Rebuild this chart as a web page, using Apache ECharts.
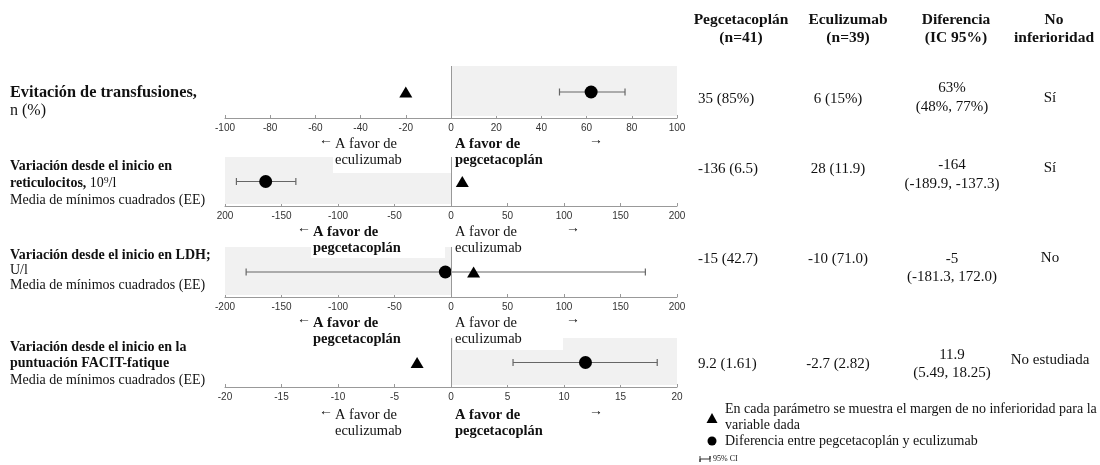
<!DOCTYPE html>
<html><head><meta charset="utf-8">
<script src="https://cdn.jsdelivr.net/npm/echarts@6/dist/echarts.min.js"></script>
<style>html,body{margin:0;padding:0;background:#fff}#c{width:1100px;height:465px}</style>
</head><body><div id="c"></div>
<script>
// ---- data ----
const estimates = [62, -164, -5, 11.9];
const ciLow = [48, -189.9, -181.3, 5.49];
const ciHigh = [77, -137.3, 172.0, 18.25];
const margins = [-20, 10, 20, -3];
const axisMin = [-100, -200, -200, -20];
const axisMax = [100, 200, 200, 20];
const axisStep = [20, 50, 50, 5];
const tickLabels = [
  ['-100','-80','-60','-40','-20','0','20','40','60','80','100'],
  ['200','-150','-100','-50','0','50','100','150','200'],
  ['-200','-150','-100','-50','0','50','100','150','200'],
  ['-20','-15','-10','-5','0','5','10','15','20']
];
const shadeFrom = [0, -200, -200, 0];
const shadeTo = [100, 0, 0, 20];
const headers = [['Pegcetacoplán','(n=41)'],['Eculizumab','(n=39)'],['Diferencia','(IC 95%)'],['No','inferioridad']];
const pegValues = ['35 (85%)','-136 (6.5)','-15 (42.7)','9.2 (1.61)'];
const ecuValues = ['6 (15%)','28 (11.9)','-10 (71.0)','-2.7 (2.82)'];
const diffValues = ['63%','-164','-5','11.9'];
const diffCI = ['(48%, 77%)','(-189.9, -137.3)','(-181.3, 172.0)','(5.49, 18.25)'];
const nonInf = ['Sí','Sí','No','No estudiada'];
const favorLeft = ['eculizumab','pegcetacoplán','pegcetacoplán','eculizumab'];
const favorRight = ['pegcetacoplán','eculizumab','eculizumab','pegcetacoplán'];

// ---- layout ----
const SERIF = '"Liberation Serif", "DejaVu Serif", serif';
const TXT = '#111';
const gridTop = [66, 157, 247, 338];
const gridH = [52, 49, 50, 49];
const chart = echarts.init(document.getElementById('c'));

const grids = [], xAxes = [], yAxes = [], series = [];
for (let i = 0; i < 4; i++) {
  grids.push({left: 225, right: 423, top: gridTop[i], height: gridH[i]});
  const mn = axisMin[i], st = axisStep[i], labs = tickLabels[i];
  xAxes.push({
    type: 'value', gridIndex: i, min: mn, max: axisMax[i], interval: st,
    splitLine: {show: false},
    axisLine: {lineStyle: {color: '#999', width: 1}},
    axisTick: {inside: true, length: 3, lineStyle: {color: '#999'}},
    axisLabel: {
      color: '#333', fontSize: 10, fontFamily: '"Liberation Sans", Arial, sans-serif', margin: 5,
      showMinLabel: true, showMaxLabel: true,
      formatter: v => labs[Math.round((v - mn) / st)]
    }
  });
  yAxes.push({type: 'value', gridIndex: i, min: 0, max: 1, show: false});
  series.push({
    type: 'custom', xAxisIndex: i, yAxisIndex: i, z: 2, silent: true,
    data: [[ciLow[i], ciHigh[i], 0.5]],
    encode: {x: [0, 1], y: 2},
    renderItem: (params, api) => {
      const lo = api.coord([api.value(0), api.value(2)]);
      const hi = api.coord([api.value(1), api.value(2)]);
      const h = 3.5, st2 = {stroke: '#666', lineWidth: 1.2};
      return {type: 'group', children: [
        {type: 'line', shape: {x1: lo[0], y1: lo[1], x2: hi[0], y2: hi[1]}, style: st2},
        {type: 'line', shape: {x1: lo[0], y1: lo[1] - h, x2: lo[0], y2: lo[1] + h}, style: st2},
        {type: 'line', shape: {x1: hi[0], y1: hi[1] - h, x2: hi[0], y2: hi[1] + h}, style: st2}
      ]};
    },
    markArea: {
      silent: true, itemStyle: {color: '#f1f1f1'},
      data: [[{xAxis: shadeFrom[i], yAxis: 0.04}, {xAxis: shadeTo[i], yAxis: 1}]]
    },
    markLine: {
      silent: true, symbol: 'none', label: {show: false},
      lineStyle: {color: '#999', width: 1, type: 'solid'},
      data: [{xAxis: 0}]
    }
  });
  series.push({
    type: 'scatter', xAxisIndex: i, yAxisIndex: i, z: 3, silent: true,
    symbol: 'triangle', symbolSize: [13, 11], itemStyle: {color: '#000', opacity: 1},
    data: [[margins[i], 0.5]]
  });
  series.push({
    type: 'scatter', xAxisIndex: i, yAxisIndex: i, z: 4, silent: true,
    symbol: 'circle', symbolSize: 13, itemStyle: {color: '#000', opacity: 1},
    data: [[estimates[i], 0.5]]
  });
}

const g = [];
function txt(x, y, text, size, bold, align) {
  g.push({type: 'text', x: x, y: y, z: 110, style: {
    text: text, fill: TXT, font: (bold ? 'bold ' : '') + size + 'px ' + SERIF,
    textAlign: align || 'left', textVerticalAlign: 'middle'
  }});
}
function whiteBox(x, y, w, h) {
  g.push({type: 'rect', z: 100, shape: {x: x, y: y, width: w, height: h}, style: {fill: '#fff'}});
}

// row labels
txt(10, 93, 'Evitación de transfusiones,', 16.3, true);
txt(10, 111, 'n (%)', 16, false);
txt(10, 166, 'Variación desde el inicio en', 14, true);
g.push({type: 'text', x: 10, y: 183, z: 110, style: {
  text: '{b|reticulocitos,} {r|10⁹/l}', textVerticalAlign: 'middle',
  rich: {b: {font: 'bold 14px ' + SERIF, fill: TXT}, r: {font: '14px ' + SERIF, fill: TXT}}
}});
txt(10, 200, 'Media de mínimos cuadrados (EE)', 14, false);
txt(10, 255, 'Variación desde el inicio en LDH;', 14, true);
txt(10, 270, 'U/l', 14, false);
txt(10, 285, 'Media de mínimos cuadrados (EE)', 14, false);
txt(10, 347, 'Variación desde el inicio en la', 14, true);
txt(10, 363, 'puntuación FACIT-fatique', 14, true);
txt(10, 380, 'Media de mínimos cuadrados (EE)', 14, false);

// favour annotations under each axis
const annY = [144, 232, 323, 415];
const leftX = [335, 313, 313, 335];
const leftArrowX = [326, 304, 304, 326];
const rightArrowX = [596, 573, 573, 596];
const boxes = [[333, 150, 118, 23], [311, 238, 134, 20], [453, 329, 110, 21], null];
for (let i = 0; i < 4; i++) {
  const b = boxes[i];
  if (b) whiteBox(b[0], b[1], b[2], b[3]);
  const lb = favorLeft[i] === 'pegcetacoplán', rb = favorRight[i] === 'pegcetacoplán';
  txt(leftArrowX[i], annY[i] - 4, '←', 14, false, 'center');
  txt(leftX[i], annY[i], 'A favor de', 14.5, lb);
  txt(leftX[i], annY[i] + 16, favorLeft[i], 14.5, lb);
  txt(455, annY[i], 'A favor de', 14.5, rb);
  txt(455, annY[i] + 16, favorRight[i], 14.5, rb);
  txt(rightArrowX[i], annY[i] - 4, '→', 14, true, 'center');
}

// table headers
const colX = [741, 848, 956, 1054];
for (let c = 0; c < 4; c++) {
  txt(colX[c], 20, headers[c][0], 15.5, true, 'center');
  txt(colX[c], 38, headers[c][1], 15.5, true, 'center');
}
// table rows
const rowMid = [99, 169, 259, 364];
const diffY = [[88, 107], [165, 184], [259, 277], [355, 373]];
for (let r = 0; r < 4; r++) {
  txt(698, rowMid[r], pegValues[r], 15, false, 'left');
  txt(838, rowMid[r], ecuValues[r], 15, false, 'center');
  txt(952, diffY[r][0], diffValues[r], 15, false, 'center');
  txt(952, diffY[r][1], diffCI[r], 15, false, 'center');
  txt(1050, r === 3 ? 360 : rowMid[r] - 1, nonInf[r], 15, false, 'center');
}

// legend
g.push({type: 'polygon', z: 110, shape: {points: [[712, 413], [706.5, 423], [717.5, 423]]}, style: {fill: '#000'}});
txt(725, 409, 'En cada parámetro se muestra el margen de no inferioridad para la', 14, false);
txt(725, 425, 'variable dada', 14, false);
g.push({type: 'circle', z: 110, shape: {cx: 712, cy: 441, r: 4.5}, style: {fill: '#000'}});
txt(725, 441, 'Diferencia entre pegcetacoplán y eculizumab', 14, false);
g.push({type: 'polyline', z: 110, shape: {points: [[700, 456], [700, 462], [700, 459], [710, 459], [710, 456], [710, 462]]}, style: {stroke: '#333', lineWidth: 1, fill: null}});
txt(713, 459, '95% CI', 8, false);

chart.setOption({
  animation: false,
  grid: grids, xAxis: xAxes, yAxis: yAxes, series: series,
  graphic: {elements: g}
});
</script>
</body></html>
